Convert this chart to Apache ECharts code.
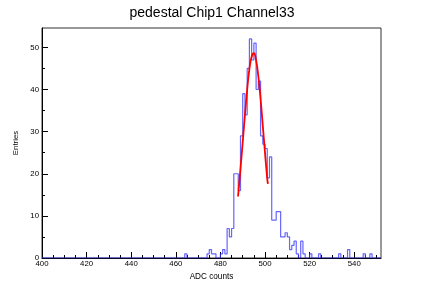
<!DOCTYPE html>
<html><head><meta charset="utf-8">
<script src="https://cdn.jsdelivr.net/npm/echarts@6/dist/echarts.min.js"></script>
<style>html,body{margin:0;padding:0;background:#fff}#c{width:424px;height:287px}</style>
</head><body><div id="c"></div>
<script>
// ---- data ----
const title = 'pedestal Chip1 Channel33';
const xTitle = 'ADC counts';
const yTitle = 'Entries';
const xMin = 400, xMax = 552;           // histogram range (bin width 1)
const yMax = 54.6;
const xMajorTicks = [400, 420, 440, 460, 480, 500, 520, 540];
const yMajorTicks = [0, 10, 20, 30, 40, 50];
// non-empty bins: low edge and entries
const binLow   = [464, 474, 475, 476, 477, 480, 481, 482, 483, 484, 485, 486, 487, 488, 489, 490, 491, 492, 493, 494, 495, 496, 497, 498, 499, 500, 501, 502, 503, 504, 505, 506, 507, 508, 509, 510, 511, 512, 513, 514, 516, 517, 520, 524, 533, 537, 544, 547];
const binCount = [1,   1,   2,   1,   1,   1,   2,   1,   7,   5,   7,   20,  20,  16,  29,  39,  34,  45,  52,  47,  51,  40,  42,  29,  27,  26,  19,  24,  9,   9,   11,  11,  5,   5,   6,   5,   2,   3,   4,   1,   4,   1,   1,   1,   1,   2,   1,   1];
const fitX = [487.9, 489, 490, 491, 492, 493, 494, 495, 496, 497, 498, 499, 500, 501, 501.3];
const fitY = [14.6, 21.2, 27.5, 34.0, 40.0, 44.9, 47.8, 48.6, 46.9, 43.1, 37.8, 31.4, 24.9, 18.8, 17.6];

// ---- build step data ----
const counts = {};
binLow.forEach((b, i) => counts[b] = binCount[i]);
const histData = [];
for (let b = xMin; b < xMax; b++) histData.push([b, counts[b] || 0]);
histData.push([xMax, counts[xMax - 1] || 0]);
const fitData = fitX.map((x, i) => [x, fitY[i]]);

const xMinorTicks = [], yMinorTicks = [];
for (let v = xMin; v <= xMax; v += 5) if (xMajorTicks.indexOf(v) < 0) xMinorTicks.push(v);
for (let v = 5; v <= yMax; v += 10) yMinorTicks.push(v);

const font = 'Liberation Sans, Arial, Helvetica, sans-serif';
const chart = echarts.init(document.getElementById('c'), null, {renderer: 'canvas'});
chart.setOption({
  animation: false,
  backgroundColor: '#fff',
  title: {text: title, left: 'center', top: 1, textStyle: {fontFamily: font, fontSize: 14, fontWeight: 'normal', color: '#000'}},
  grid: {left: 42, right: 43, top: 28, bottom: 29, show: true, borderColor: '#333', borderWidth: 1, backgroundColor: 'transparent'},
  xAxis: [{
    type: 'value', min: xMin, max: xMax, position: 'bottom',
    name: xTitle, nameLocation: 'middle', nameGap: 14,
    nameTextStyle: {fontFamily: font, fontSize: 8.2, color: '#000'},
    axisLine: {show: true, onZero: false, lineStyle: {color: '#000', width: 1}},
    axisTick: {show: true, inside: true, length: 6, customValues: xMajorTicks, lineStyle: {color: '#000'}},
    axisLabel: {show: true, customValues: xMajorTicks, fontFamily: font, fontSize: 7.8, color: '#000', margin: 2},
    splitLine: {show: false}
  }, {
    type: 'value', min: xMin, max: xMax, position: 'bottom',
    axisLine: {show: false},
    axisTick: {show: true, inside: true, length: 3, customValues: xMinorTicks, lineStyle: {color: '#000'}},
    axisLabel: {show: false}, splitLine: {show: false}
  }],
  yAxis: [{
    type: 'value', min: 0, max: yMax, position: 'left',
    name: yTitle, nameLocation: 'middle', nameGap: 20,
    nameTextStyle: {fontFamily: font, fontSize: 7.8, color: '#000'},
    axisLine: {show: true, lineStyle: {color: '#000', width: 1}},
    axisTick: {show: true, inside: true, length: 6, customValues: yMajorTicks, lineStyle: {color: '#000'}},
    axisLabel: {show: true, customValues: yMajorTicks, fontFamily: font, fontSize: 7.8, color: '#000', margin: 3},
    splitLine: {show: false}
  }, {
    type: 'value', min: 0, max: yMax, position: 'left',
    axisLine: {show: false},
    axisTick: {show: true, inside: true, length: 3, customValues: yMinorTicks, lineStyle: {color: '#000'}},
    axisLabel: {show: false}, splitLine: {show: false}
  }],
  series: [{
    type: 'line', xAxisIndex: 0, yAxisIndex: 0, step: 'end', data: histData,
    symbol: 'none', lineStyle: {color: 'rgba(50,50,255,0.75)', width: 1.2}, z: 3
  }, {
    type: 'line', xAxisIndex: 0, yAxisIndex: 0, data: fitData, smooth: true,
    symbol: 'none', lineStyle: {color: '#ff0000', width: 1.8}, z: 4
  }]
});
</script></body></html>
